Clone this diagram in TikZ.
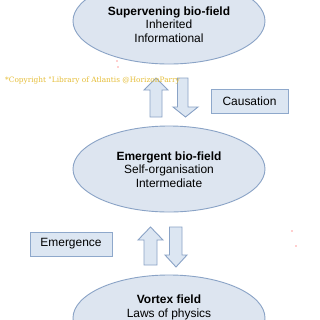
\documentclass[tikz,border=0pt]{standalone}
\usepackage{fontspec}
\setmainfont{Liberation Sans}
\newfontfamily\copyfont{DejaVu Serif}
\usetikzlibrary{shapes.geometric}
\definecolor{ellfill}{HTML}{DDE5F0}
\definecolor{elldraw}{HTML}{8AA3C6}
\definecolor{boxfill}{HTML}{DCE6F2}
\definecolor{boxdraw}{HTML}{8EA8CB}
\definecolor{arrfill}{HTML}{DCE6F2}
\definecolor{arrdraw}{HTML}{8AA3C6}
\definecolor{goldtext}{HTML}{E6BE38}
\begin{document}
\begin{tikzpicture}[x=1bp,y=-1bp,
  fieldell/.style={ellipse, draw=elldraw, fill=ellfill, line width=0.9bp,
    minimum width=192bp, minimum height=86bp, inner sep=0pt},
  fieldtext/.style={align=center, inner sep=0pt, font=\fontsize{12}{13.5}\selectfont},
  labelbox/.style={rectangle, draw=boxdraw, fill=boxfill, line width=0.9bp,
    inner sep=0pt, font=\fontsize{12}{14}\selectfont},
  blockarrow/.style={draw=arrdraw, fill=arrfill, line width=0.9bp, line join=miter}]
\useasboundingbox (0,0) rectangle (320,320);
\fill[white] (0,0) rectangle (320,320);

\node[fieldell] (sup) at (169,21) {};
\node[fieldtext] (suptext) at (169,24.5) {\textbf{Supervening bio-field}\\Inherited\\Informational};
\node[fieldell] (emg) at (169,169) {};
\node[fieldtext] (emgtext) at (169,169.5) {\textbf{Emergent bio-field}\\Self-organisation\\Intermediate};
\node[fieldell] (vor) at (169,318) {};
\node[fieldtext, anchor=north] (vortext) at (169,295) {\textbf{Vortex field}\\Laws of physics};

\node[labelbox, minimum width=77bp, minimum height=24bp] (caus) at (249.5,101) {Causation};
\node[labelbox, minimum width=82bp, minimum height=24bp] (emer) at (71,244) {Emergence};

% upper block arrows
\draw[blockarrow] (150,117) -- (150,90) -- (144,90) -- (156,78) -- (168,90) -- (162,90) -- (162,117) -- cycle;
\draw[blockarrow] (177.5,78) -- (188,78) -- (188,107) -- (198,107) -- (185.5,117) -- (173,107) -- (177.5,107) -- cycle;
% lower block arrows
\draw[blockarrow] (144,265) -- (144,240) -- (138,240) -- (150.5,227) -- (163,240) -- (157,240) -- (157,265) -- cycle;
\draw[blockarrow] (169.5,227) -- (182,227) -- (182,255) -- (187,255) -- (176,267) -- (165,255) -- (169.5,255) -- cycle;

\node[anchor=west, inner sep=0pt, text=goldtext, font=\copyfont\fontsize{7.4}{8}\selectfont] (copy) at (5,81) {*Copyright "Library of Atlantis @HorizonParry};

\fill[red!80] (117,61) circle (0.7);
\fill[red!80] (118,67) circle (0.7);
\fill[red!80] (292,231) circle (0.7);
\fill[red!80] (296,246) circle (0.7);
\end{tikzpicture}
\end{document}
